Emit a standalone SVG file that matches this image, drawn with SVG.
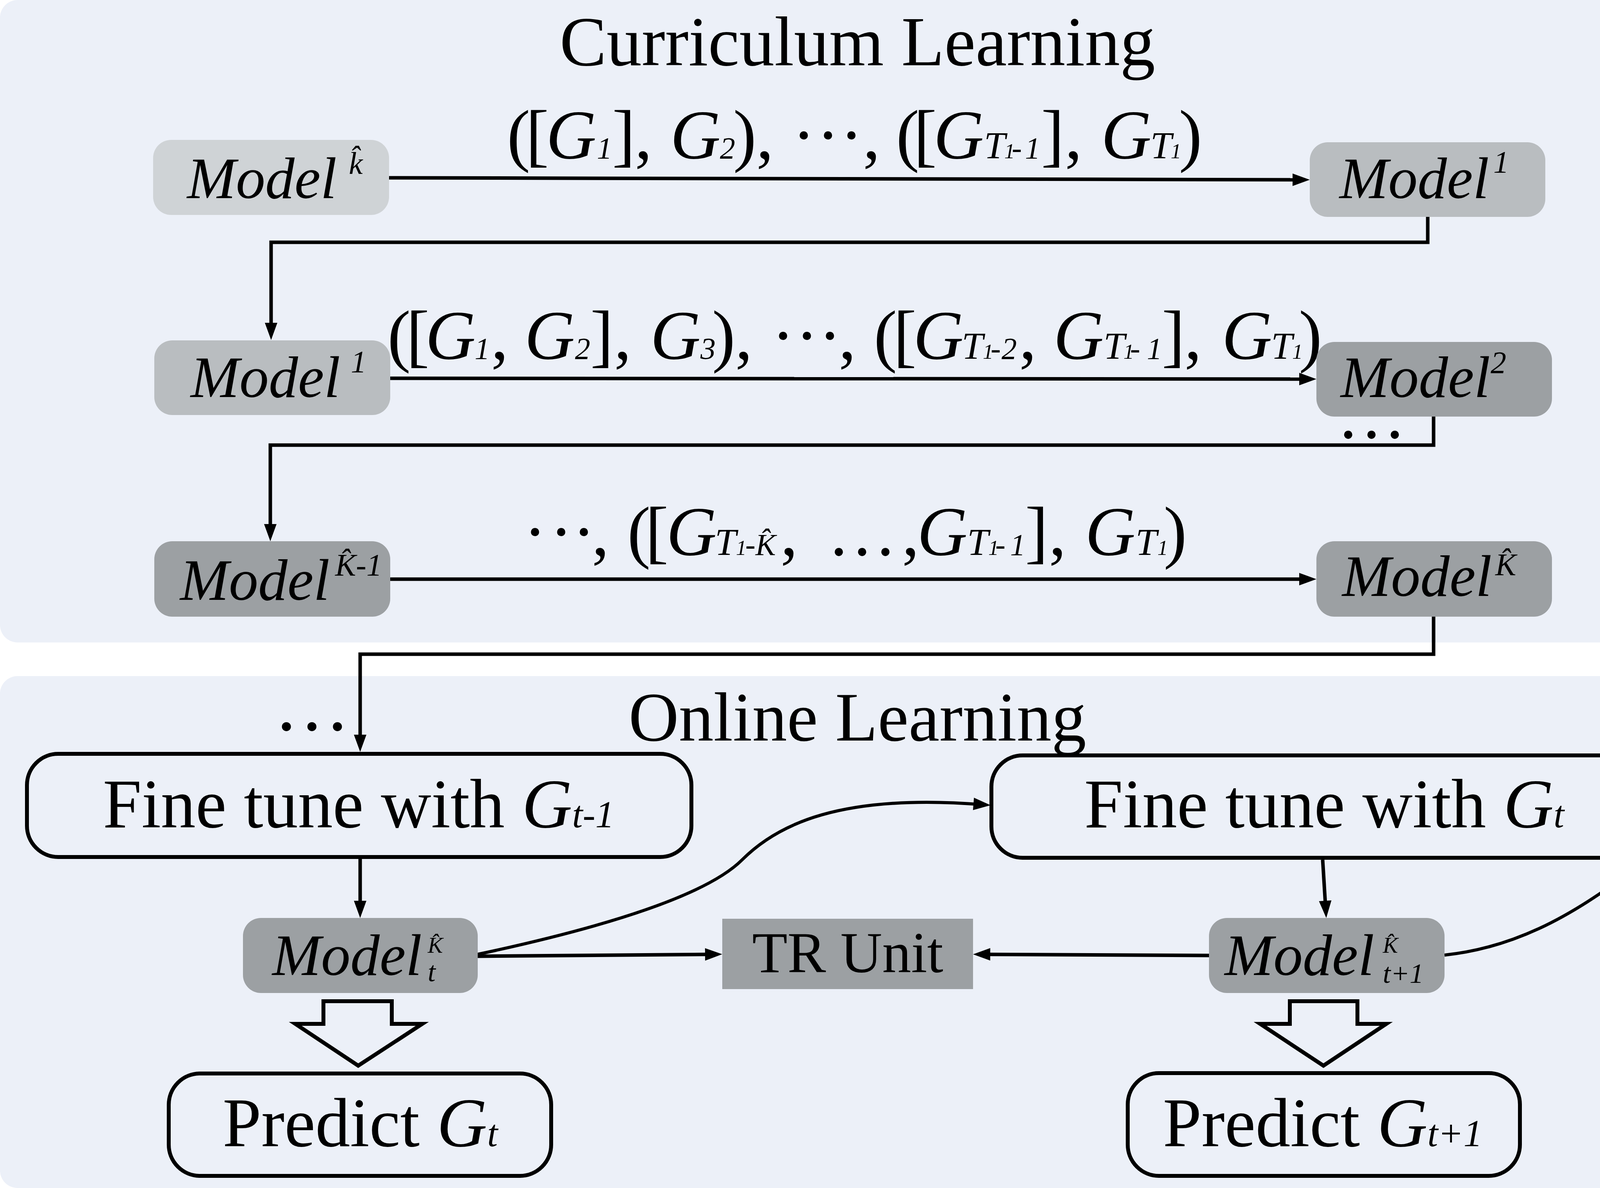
<svg xmlns="http://www.w3.org/2000/svg" width="4391" height="3040" viewBox="0 0 4391 3040">
<defs>
<style>
.t{font-family:"Liberation Serif","Times New Roman",serif;fill:#000}
.i{font-style:italic}
.lbl{font-size:178px}
.s{font-size:78px}
.st{font-size:98px}
.ss{font-size:54px}
.mdl{font-size:150px;font-style:italic}
.sup{font-size:80px}
.supb{font-size:58px}
.subb{font-size:72px}
.big{font-size:178px}
.sub2{font-size:97px;font-style:italic}
.panel{fill:#ecf0f8}
.c1{fill:#cfd3d6}
.c2{fill:#b9bdc0}
.c3{fill:#9ca0a3}
.box{fill:none;stroke:#000;stroke-width:10}
.ln{fill:none;stroke:#000;stroke-width:9}
.cv{fill:none;stroke:#000;stroke-width:8}
.hol{fill:none;stroke:#000;stroke-width:10;stroke-linejoin:miter}
</style>
<marker id="ah" markerUnits="userSpaceOnUse" markerWidth="46" markerHeight="34" refX="24" refY="16" orient="auto" overflow="visible">
<path d="M0,0 L44,16 L0,32 Z" fill="#000"/>
</marker>
</defs>

<g id="panels">
<rect class="panel" x="0" y="0" width="4387" height="1644" rx="45"/>
<rect class="panel" x="0" y="1730" width="4387" height="1310" rx="45"/>
<text class="t" x="2195" y="167" font-size="180" text-anchor="middle">Curriculum Learning</text>
<text class="t" x="2195" y="1895" font-size="178" text-anchor="middle">Online Learning</text>
</g>

<g id="connectors">
<path class="ln" d="M996,455 L3333,460" marker-end="url(#ah)"/>
<path class="ln" d="M3655,555 V620 H694 V850" marker-end="url(#ah)"/>
<path class="ln" d="M999,968 L3350,970" marker-end="url(#ah)"/>
<path class="ln" d="M3670,1066 V1139 H692 V1365" marker-end="url(#ah)"/>
<path class="ln" d="M999,1482 L3350,1482" marker-end="url(#ah)"/>
<path class="ln" d="M3670,1578 V1674 H922 V1904" marker-end="url(#ah)"/>
<path class="ln" d="M922,2198 V2329" marker-end="url(#ah)"/>
<path class="ln" d="M1223,2447 L1829,2442" marker-end="url(#ah)"/>
<path class="cv" d="M1223,2442 C1560,2370 1810,2290 1900,2200 C1990,2110 2150,2030 2516,2059" marker-end="url(#ah)"/>
<path class="ln" d="M3095,2445 L2511,2442" marker-end="url(#ah)"/>
<path class="ln" d="M3386,2200 L3394,2329" marker-end="url(#ah)"/>
<path class="cv" d="M3698,2444 C3880,2425 4020,2340 4120,2270 C4220,2200 4290,2165 4366,2141" marker-end="url(#ah)"/>
<polygon class="hol" points="828,2562 1003,2562 1003,2620 1081,2620 917,2727 756,2620 828,2620"/>
<polygon class="hol" points="3302,2562 3475,2562 3475,2620 3549,2620 3388,2727 3226,2620 3302,2620"/>
</g>

<g id="labels">
<text class="t lbl" y="405"><tspan x="1298">(</tspan><tspan x="1346">[</tspan><tspan class="i" x="1398">G</tspan><tspan class="i s" x="1528">1</tspan><tspan x="1567">]</tspan><tspan x="1625">, </tspan><tspan class="i" x="1716">G</tspan><tspan class="i s" x="1843">2</tspan><tspan x="1877">)</tspan><tspan x="1936">, </tspan><tspan x="2028 2090 2150">···</tspan><tspan x="2209">, </tspan><tspan x="2294">(</tspan><tspan x="2339">[</tspan><tspan class="i" x="2390">G</tspan><tspan class="i st" x="2519">T</tspan><tspan class="i ss" x="2571">1</tspan><tspan class="i s" x="2590 2624">-1</tspan><tspan x="2665">]</tspan><tspan x="2726">, </tspan><tspan class="i" x="2819">G</tspan><tspan class="i st" x="2945">T</tspan><tspan class="i ss" x="2997">1</tspan><tspan x="3018">)</tspan></text>
<text class="t lbl" y="918"><tspan x="992">(</tspan><tspan x="1040">[</tspan><tspan class="i" x="1089">G</tspan><tspan class="i s" x="1215">1</tspan><tspan x="1257">, </tspan><tspan class="i" x="1343">G</tspan><tspan class="i s" x="1472">2</tspan><tspan x="1511">]</tspan><tspan x="1572">, </tspan><tspan class="i" x="1665">G</tspan><tspan class="i s" x="1793">3</tspan><tspan x="1823">)</tspan><tspan x="1882">, </tspan><tspan x="1975 2036 2095">···</tspan><tspan x="2147">, </tspan><tspan x="2237">(</tspan><tspan x="2287">[</tspan><tspan class="i" x="2338">G</tspan><tspan class="i st" x="2462">T</tspan><tspan class="i ss" x="2516">1</tspan><tspan class="i s" x="2536 2564">-2</tspan><tspan x="2609">, </tspan><tspan class="i" x="2697">G</tspan><tspan class="i st" x="2825">T</tspan><tspan class="i ss" x="2876">1</tspan><tspan class="i s" x="2893 2936">-1</tspan><tspan x="2974">]</tspan><tspan x="3032">, </tspan><tspan class="i" x="3128">G</tspan><tspan class="i st" x="3254">T</tspan><tspan class="i ss" x="3308">1</tspan><tspan x="3325">)</tspan></text>
<text class="t lbl" y="1420"><tspan x="1340 1407 1465">···</tspan><tspan x="1515">, </tspan><tspan x="1606">(</tspan><tspan x="1652">[</tspan><tspan class="i" x="1706">G</tspan><tspan class="i st" x="1830">T</tspan><tspan class="i ss" x="1884">1</tspan><tspan class="i s" x="1908">-K&#x302;</tspan><tspan x="1998">, </tspan><tspan x="2118">…</tspan><tspan x="2309">,</tspan><tspan class="i" x="2348">G</tspan><tspan class="i st" x="2476">T</tspan><tspan class="i ss" x="2530">1</tspan><tspan class="i s" x="2548 2586">-1</tspan><tspan x="2624">]</tspan><tspan x="2685">, </tspan><tspan class="i" x="2778">G</tspan><tspan class="i st" x="2907">T</tspan><tspan class="i ss" x="2963">1</tspan><tspan x="2979">)</tspan></text>
<text class="t" x="3422" y="1120" font-size="178">…</text>
<text class="t" x="701" y="1868" font-size="195">…</text>
<text class="t" x="4170" y="2309" font-size="195">…</text>
</g>

<g id="node-model-khat">
<rect class="c1" x="392" y="358" width="604" height="192" rx="46"/>
<text class="t mdl" x="479" y="507">Model<tspan class="sup" x="893" y="445">k&#x302;</tspan></text>
</g>
<g id="node-model-1a">
<rect class="c2" x="3353" y="364" width="603" height="191" rx="46"/>
<text class="t mdl" x="3429" y="507">Model<tspan class="sup" x="3823" y="442">1</tspan></text>
</g>
<g id="node-model-1b">
<rect class="c2" x="395" y="871" width="604" height="191" rx="46"/>
<text class="t mdl" x="488" y="1016">Model<tspan class="sup" x="898" y="953">1</tspan></text>
</g>
<g id="node-model-2">
<rect class="c3" x="3370" y="875" width="603" height="191" rx="46"/>
<text class="t mdl" x="3432" y="1016">Model<tspan class="sup" x="3816" y="955">2</tspan></text>
</g>
<g id="node-model-K-1">
<rect class="c3" x="395" y="1385" width="604" height="193" rx="46"/>
<text class="t mdl" x="461" y="1535">Model<tspan class="sup" x="858" y="1473">K&#x302;-1</tspan></text>
</g>
<g id="node-model-K">
<rect class="c3" x="3370" y="1385" width="603" height="193" rx="46"/>
<text class="t mdl" x="3436" y="1525">Model<tspan class="sup" x="3828" y="1472">K&#x302;</tspan></text>
</g>

<g id="node-finetune-t-1">
<rect class="box" x="69" y="1929" width="1701" height="264" rx="80"/>
<text class="t big" x="918" y="2117" text-anchor="middle">Fine tune with <tspan class="i">G</tspan><tspan class="sub2">t-1</tspan></text>
</g>
<g id="node-finetune-t">
<rect class="box" x="2538" y="1933" width="1702" height="262" rx="80"/>
<text class="t big" x="3390" y="2117" text-anchor="middle">Fine tune with <tspan class="i">G</tspan><tspan class="sub2">t</tspan></text>
</g>
<g id="node-model-t">
<rect class="c3" x="622" y="2349" width="601" height="192" rx="46"/>
<text class="t mdl" x="697" y="2495">Model<tspan class="supb" x="1095" y="2438">K&#x302;</tspan><tspan class="subb" x="1095" y="2511">t</tspan></text>
</g>
<g id="node-tr-unit">
<rect class="c3" x="1849" y="2351" width="642" height="180"/>
<text class="t" x="2170" y="2488" font-size="148" text-anchor="middle">TR Unit</text>
</g>
<g id="node-model-t1">
<rect class="c3" x="3095" y="2349" width="603" height="192" rx="46"/>
<text class="t mdl" x="3135" y="2495">Model<tspan class="supb" x="3540" y="2438">K&#x302;</tspan><tspan class="subb" x="3540" y="2515">t+1</tspan></text>
</g>
<g id="node-predict-t">
<rect class="box" x="432" y="2747" width="979" height="262" rx="80"/>
<text class="t big" x="922" y="2933" text-anchor="middle">Predict <tspan class="i">G</tspan><tspan class="sub2">t</tspan></text>
</g>
<g id="node-predict-t1">
<rect class="box" x="2887" y="2746" width="1004" height="263" rx="80"/>
<text class="t big" x="3386" y="2933" text-anchor="middle">Predict <tspan class="i">G</tspan><tspan class="sub2">t+1</tspan></text>
</g>
</svg>
